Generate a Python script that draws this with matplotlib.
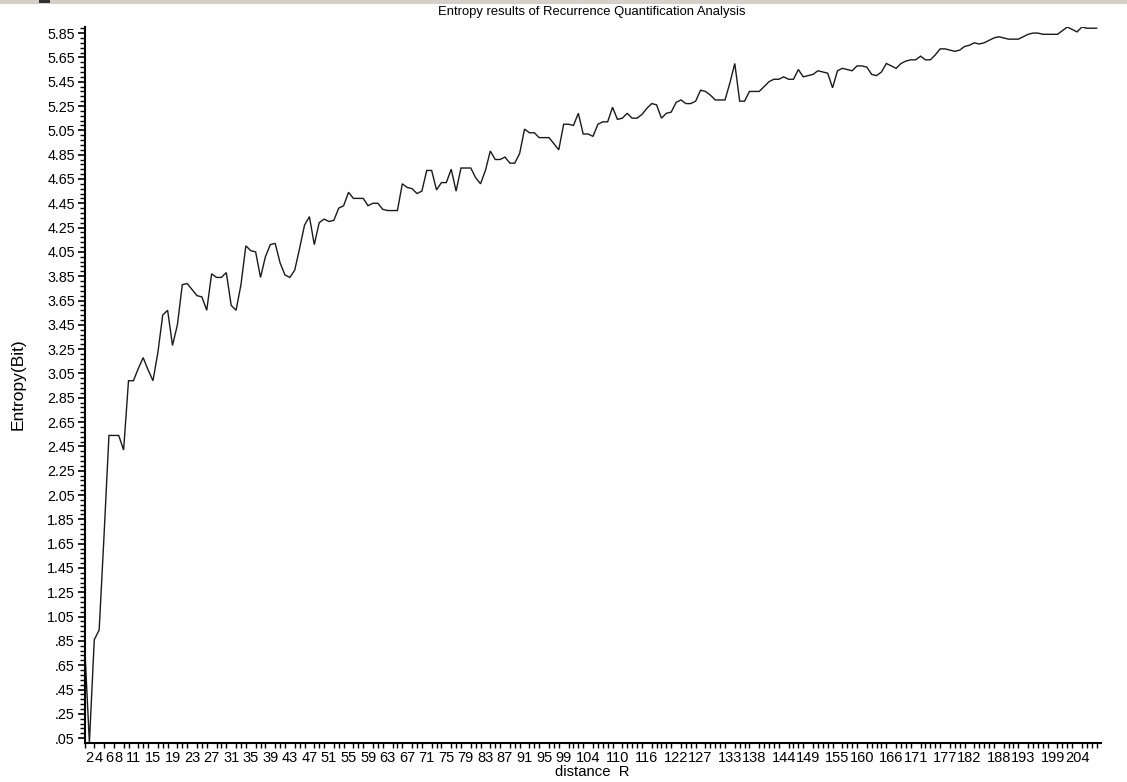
import matplotlib
matplotlib.use("Agg")
import matplotlib.pyplot as plt
import numpy as np
from matplotlib.patches import Rectangle
from matplotlib.ticker import FixedLocator, NullFormatter

# Entropy (bit) for distance R = 1 .. 208
entropy = [
    0.84, 0.01, 0.86, 0.94, 1.72, 2.54, 2.54, 2.54, 2.42, 2.99,
    2.99, 3.09, 3.18, 3.08, 2.99, 3.22, 3.53, 3.57, 3.28, 3.45,
    3.78, 3.79, 3.74, 3.69, 3.68, 3.57, 3.87, 3.84, 3.84, 3.88,
    3.61, 3.57, 3.78, 4.10, 4.06, 4.05, 3.84, 4.01, 4.11, 4.12,
    3.96, 3.86, 3.84, 3.90, 4.08, 4.27, 4.34, 4.11, 4.29, 4.32,
    4.30, 4.31, 4.41, 4.43, 4.54, 4.49, 4.49, 4.49, 4.43, 4.45,
    4.45, 4.40, 4.39, 4.39, 4.39, 4.61, 4.58, 4.57, 4.53, 4.55,
    4.72, 4.72, 4.56, 4.62, 4.62, 4.73, 4.55, 4.74, 4.74, 4.74,
    4.66, 4.61, 4.72, 4.88, 4.81, 4.81, 4.83, 4.78, 4.78, 4.86,
    5.06, 5.03, 5.03, 4.99, 4.99, 4.99, 4.94, 4.89, 5.10, 5.10,
    5.09, 5.19, 5.02, 5.02, 5.00, 5.10, 5.12, 5.12, 5.24, 5.14,
    5.15, 5.19, 5.15, 5.15, 5.18, 5.23, 5.27, 5.26, 5.15, 5.19,
    5.20, 5.28, 5.30, 5.27, 5.27, 5.29, 5.38, 5.37, 5.34, 5.30,
    5.30, 5.30, 5.44, 5.60, 5.29, 5.29, 5.37, 5.37, 5.37, 5.41,
    5.45, 5.47, 5.47, 5.49, 5.47, 5.47, 5.55, 5.49, 5.50, 5.51,
    5.54, 5.53, 5.52, 5.40, 5.54, 5.56, 5.55, 5.54, 5.58, 5.58,
    5.57, 5.51, 5.50, 5.53, 5.60, 5.58, 5.56, 5.60, 5.62, 5.63,
    5.63, 5.66, 5.63, 5.63, 5.67, 5.72, 5.72, 5.71, 5.70, 5.71,
    5.74, 5.75, 5.77, 5.76, 5.77, 5.79, 5.81, 5.82, 5.81, 5.80,
    5.80, 5.80, 5.82, 5.84, 5.85, 5.85, 5.84, 5.84, 5.84, 5.84,
    5.87, 5.90, 5.88, 5.86, 5.90, 5.89, 5.89, 5.89,
]
distance = list(range(1, len(entropy) + 1))

x_labels = ([2, 4, 6, 8] + list(range(11, 100, 4)) +
            [104, 110, 116, 122, 127, 133, 138, 144, 149, 155, 160,
             166, 171, 177, 182, 188, 193, 199, 204])
y_labels = [round(0.05 + 0.2 * k, 2) for k in range(30)]

TITLE = "Entropy results of Recurrence Quantification Analysis"
XLABEL = "distance  R"
YLABEL = "Entropy(Bit)"

plt.rcParams["font.family"] = ["Liberation Sans", "DejaVu Sans"]

W, H = 1127, 782
fig = plt.figure(figsize=(W / 100, H / 100), dpi=100)
fig.patch.set_facecolor("#fefefe")

# window frame strip at the top
fig.add_artist(Rectangle((0, 1 - 4 / H), 1, 4 / H, transform=fig.transFigure,
                         facecolor="#d4d0c8", edgecolor="none"))
fig.add_artist(Rectangle((39 / W, 1 - 3 / H), 11 / W, 3 / H,
                         transform=fig.transFigure,
                         facecolor="#303030", edgecolor="none"))

ax = fig.add_axes([84.5 / W, 1 - 743 / H, (1101 - 84.5) / W, (743 - 27) / H])
ax.set_facecolor("#fefefe")
ax.plot(distance, entropy, color="#1a1a1a", lw=1.0, solid_joinstyle="miter")

ax.set_xlim(1, 208.9)
ax.set_ylim(0.01, 5.90)

for s in ("top", "right"):
    ax.spines[s].set_visible(False)
for s in ("left", "bottom"):
    ax.spines[s].set_linewidth(1.5)
    ax.spines[s].set_color("#000000")

# y axis: labelled every 0.2, small ticks in between
ax.set_yticks(y_labels)
ax.set_yticklabels([(f"{v:.2f}" if v >= 1 else f"{v:.2f}"[1:]) for v in y_labels])
ax.yaxis.set_minor_locator(FixedLocator(np.arange(0.05, 5.90, 0.04)))
ax.tick_params(axis="y", which="major", length=5, width=1.2, pad=2,
               labelsize=10.3, direction="out")
ax.tick_params(axis="y", which="minor", length=3.5, width=1.0, direction="out")

# x axis: a tick for every point, labels where they fit
ax.set_xticks(x_labels)
ax.set_xticklabels([str(v) for v in x_labels])
ax.xaxis.set_minor_locator(FixedLocator(distance))
ax.xaxis.set_minor_formatter(NullFormatter())
ax.tick_params(axis="x", which="major", length=0, pad=5.5, labelsize=10.5)
ax.tick_params(axis="x", which="minor", length=3.5, width=1.0, direction="out")

fig.text(592 / W, 1 - 12 / H, TITLE, ha="center", va="center", fontsize=9.4)
fig.text(592 / W, 1 - 772 / H, XLABEL, ha="center", va="center", fontsize=10.7)
fig.text(18 / W, 1 - 384 / H, YLABEL, ha="center", va="center",
         rotation=90, fontsize=12.5)

fig.savefig("out.png", dpi=100, facecolor=fig.get_facecolor())
